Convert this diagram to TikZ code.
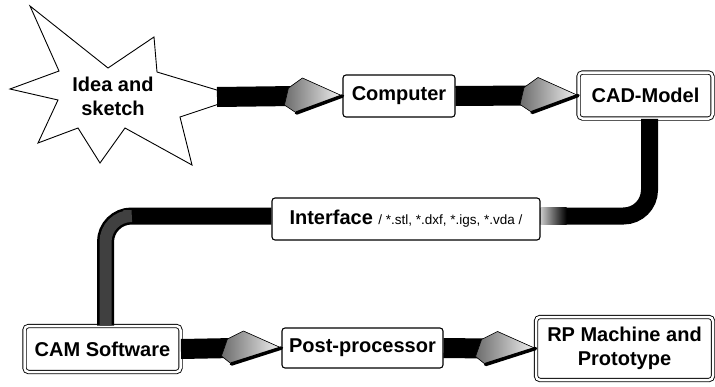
\documentclass[tikz,border=0pt]{standalone}
\usepackage{fontspec}
\setsansfont{Liberation Sans}
\usepackage{tikz}
\usetikzlibrary{calc}

\begin{document}
\begin{tikzpicture}[
  x=1pt, y=-1pt,
  box/.style={
    rectangle,
    draw,
    line width=1.1pt,
    fill=white,
    rounded corners=3pt,
    inner sep=2pt,
    font=\sffamily\bfseries\fontsize{20}{24}\selectfont,
    align=center
  },
  dbox/.style={
    box,
    double,
    double distance=2.5pt,
    line width=0.9pt,
    rounded corners=4pt
  },
  starline/.style={
    draw=black,
    fill=white,
    line width=0.9pt,
    line join=miter
  },
  bar/.style={
    line width=20pt,
    draw=black
  },
  link/.style={
    line width=17pt,
    draw=black,
    rounded corners=26pt
  },
  head/.style={
    left color=gray!85!black,
    right color=gray!10,
    draw=black,
    line width=0.6pt,
    line join=round
  },
  headedge/.style={
    line width=3.5pt,
    draw=black,
    line cap=round
  }
]
\useasboundingbox (0,0) rectangle (715,386);

% Star with the idea
\coordinate (ideac) at (113,96);
\draw[starline, shift={(ideac)}] (-103,-7) -- (-54,-25) -- (-83,-90) -- (-5,-28)
  -- (41,-59) -- (44,-24) -- (127,1) -- (67,21) -- (79,69) -- (12,32)
  -- (-13,67) -- (-35,32) -- (-75,47) -- (-55,4) -- cycle;
\node[font=\sffamily\bfseries\fontsize{20}{24}\selectfont, align=center] (idea) at (ideac) {Idea and\\sketch};
\coordinate (ideatip) at (217,97);

% Process boxes
\node[box, minimum width=112pt, minimum height=42pt] (comp) at (399,96) {Computer};
\node[dbox, minimum width=134pt, minimum height=46pt] (cad) at (645.5,95.5) {CAD-Model};
\node[box, minimum width=268pt, minimum height=42pt] (iface) at (406,219)
  {Interface {\mdseries\fontsize{13.5}{16}\selectfont / *.stl, *.dxf, *.igs, *.vda /}};
\node[dbox, minimum width=156pt, minimum height=46pt] (cam) at (102.5,349) {CAM Software};
\node[box, minimum width=161pt, minimum height=40pt] (post) at (362.5,348) {Post-processor};
\node[dbox, minimum width=177pt, minimum height=63pt] (rp) at (624.5,348.5) {RP Machine and\\Prototype};

% Fat arrows, top row
\draw[bar] (ideatip) -- ($(comp.west)+(-48,0)$);
\filldraw[head] ($(comp.west)+(-40,-18)$) -- (comp.west) -- ($(comp.west)+(-46,17)$)
  -- ($(comp.west)+(-58,9)$) -- ($(comp.west)+(-54,-8)$) -- cycle;
\draw[headedge] ($(comp.west)+(-46,17)$) -- (comp.west);

\draw[bar] (comp.east) -- ($(cad.west)+(-48,0)$);
\filldraw[head] ($(cad.west)+(-40,-18)$) -- (cad.west) -- ($(cad.west)+(-46,17)$)
  -- ($(cad.west)+(-58,9)$) -- ($(cad.west)+(-54,-8)$) -- cycle;
\draw[headedge] ($(cad.west)+(-46,17)$) -- (cad.west);

% Loop through the interface
\draw[link] ([xshift=4pt]cad.south) |- ([yshift=3pt]iface.east);
\shade[left color=gray!45, right color=black] ($(iface.east)+(0.6,-11.5)$) rectangle ($(iface.east)+(26,5.5)$);
\draw[link] ([yshift=3pt]iface.west) -| ([xshift=3pt]cam.north);
\draw[link, line width=12pt, draw=gray!50!black] ([xshift=3pt]cam.north) |- ($(iface.west)+(-148,-3)$);

% Fat arrows, bottom row
\draw[bar] (cam.east) -- ($(post.west)+(-48,0)$);
\filldraw[head] ($(post.west)+(-38,-17)$) -- (post.west) -- ($(post.west)+(-50,16)$)
  -- ($(post.west)+(-60,8)$) -- ($(post.west)+(-54,-9)$) -- cycle;
\draw[headedge] ($(post.west)+(-50,16)$) -- (post.west);

\draw[bar] (post.east) -- ($(rp.west)+(-48,0)$);
\filldraw[head] ($(rp.west)+(-38,-17)$) -- (rp.west) -- ($(rp.west)+(-50,16)$)
  -- ($(rp.west)+(-60,8)$) -- ($(rp.west)+(-54,-9)$) -- cycle;
\draw[headedge] ($(rp.west)+(-50,16)$) -- (rp.west);
\end{tikzpicture}
\end{document}
